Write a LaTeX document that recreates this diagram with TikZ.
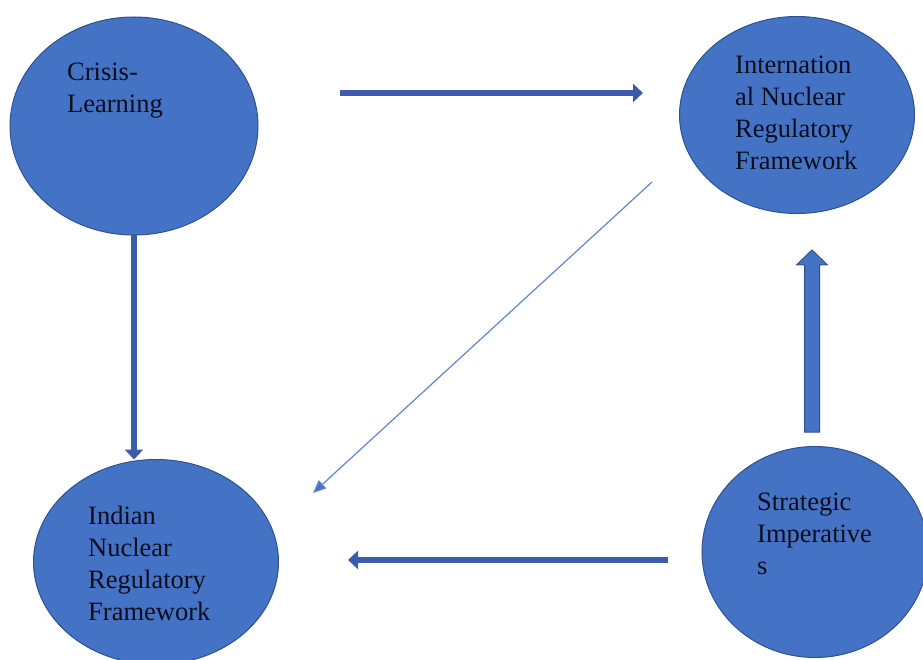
\documentclass[tikz,border=0pt]{standalone}
\usepackage{fontspec}
\setmainfont{Liberation Serif}
\usetikzlibrary{shapes.geometric,arrows.meta,calc}
\definecolor{bubble}{RGB}{68,114,196}
\definecolor{rim}{RGB}{47,82,143}
\definecolor{link}{RGB}{59,92,170}
\definecolor{ink}{RGB}{12,14,30}

\begin{document}
\begin{tikzpicture}[x=1pt,y=-1pt,
  bubble/.style={ellipse,draw=rim,line width=1pt,fill=bubble,inner sep=0pt,outer sep=0pt},
  txt/.style={anchor=north west,align=left,inner sep=0pt,text=ink,font=\fontsize{26.5}{32}\selectfont},
  flow/.style={draw=link,line width=6pt,-{Triangle[length=10pt,width=18pt]}},
  cross/.style={draw=bubble!85!white,line width=1.2pt,-{Triangle[length=13pt,width=11pt,fill=bubble]}},
  blockarrow/.style={draw=rim,line width=1pt,fill=bubble}]
  \useasboundingbox (0,0) rectangle (923,660);
  \clip (0,0) rectangle (923,660);
  % the four bubbles
  \node[bubble,minimum width=248pt,minimum height=218pt] (crisis) at (134,126) {};
  \node[bubble,minimum width=235pt,minimum height=197pt] (intl) at (797,115) {};
  \node[bubble,minimum width=245pt,minimum height=205pt] (indian) at (156,562) {};
  \node[bubble,minimum width=226pt,minimum height=211pt] (strat) at (815,552) {};
  % their texts
  \node[txt] (crisislbl) at (67,63) {Crisis-\\Learning};
  \node[txt] (intllbl) at (735,56) {Internation\\al Nuclear\\Regulatory\\Framework};
  \node[txt] (indianlbl) at (88,506) {Indian\\Nuclear\\Regulatory\\Framework};
  \node[txt] (stratlbl) at (757,493) {Strategic\\Imperative\\s};
  % free ends of the arrows
  \coordinate (topA) at (340,93);
  \coordinate (topB) at (643,93);
  \coordinate (diagA) at (652,182);
  \coordinate (diagB) at (313,493);
  \coordinate (botA) at (668,560);
  \coordinate (botB) at (348,560);
  \coordinate (upA) at (812,432);
  \coordinate (upB) at (812,250);
  % arrows
  \draw[flow] (topA) -- (topB);
  \draw[flow] (crisis.south) -- (crisis.south |- indian.north);
  \draw[cross] (diagA) -- (diagB);
  \draw[flow] (botA) -- (botB);
  \draw[blockarrow] ($(upA)+(-7.5,0)$) -- ($(upA)+(7.5,0)$) -- ($(upB)+(7.5,15)$)
    -- ($(upB)+(15.5,15)$) -- (upB) -- ($(upB)+(-15.5,15)$) -- ($(upB)+(-7.5,15)$) -- cycle;
\end{tikzpicture}
\end{document}
